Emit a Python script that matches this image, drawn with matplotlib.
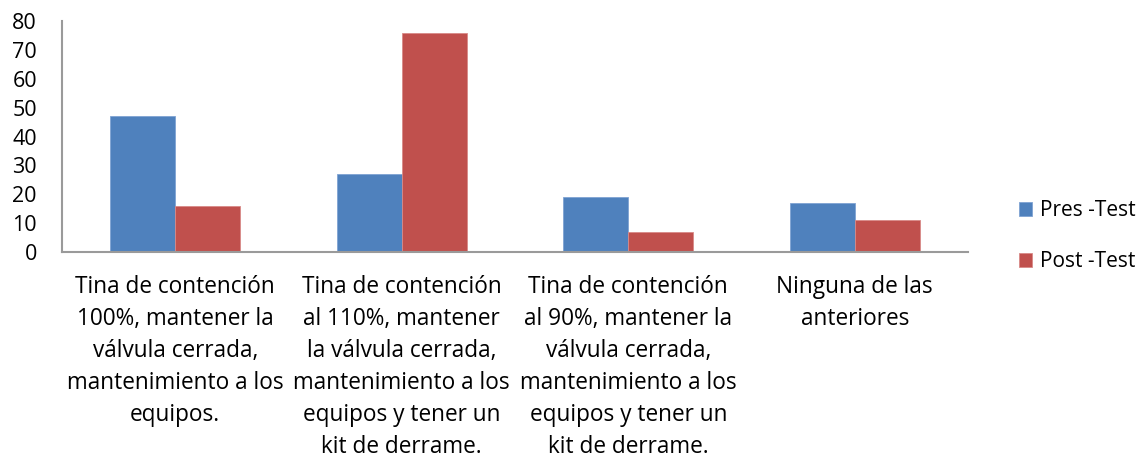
import numpy as np
import matplotlib.pyplot as plt

categories = [
    "Tina de contención\n100%, mantener la\nválvula cerrada,\nmantenimiento a los\nequipos.",
    "Tina de contención\nal 110%, mantener\nla válvula cerrada,\nmantenimiento a los\nequipos y tener un\nkit de derrame.",
    "Tina de contención\nal 90%, mantener la\nválvula cerrada,\nmantenimiento a los\nequipos y tener un\nkit de derrame.",
    "Ninguna de las\nanteriores",
]
pre_test = [47, 27, 19, 17]
post_test = [16, 76, 7, 11]
series_names = ["Pres -Test", "Post -Test"]

plt.rcParams["font.family"] = ["Open Sans", "DejaVu Sans"]

W, H = 1144, 461
fig = plt.figure(figsize=(W / 100, H / 100), dpi=100)
ax = fig.add_axes([62 / W, (H - 252) / H, (968 - 62) / W, (252 - 21) / H])

x = np.arange(len(categories))
bw = 0.287
ax.bar(x - bw / 2, pre_test, bw, color="#4F81BD", edgecolor="#7FA3D3", linewidth=0.6, label=series_names[0])
ax.bar(x + bw / 2, post_test, bw, color="#C0504D", edgecolor="#D88A88", linewidth=0.6, label=series_names[1])

ax.set_xlim(-0.5, len(categories) - 0.5)
ax.set_ylim(0, 80)
ax.set_yticks(range(0, 81, 10))
ax.tick_params(axis="y", length=0, labelsize=15.5, pad=18)
ax.set_xticks([])

for sp in ["top", "right"]:
    ax.spines[sp].set_visible(False)
for sp in ["left", "bottom"]:
    ax.spines[sp].set_color("#9A9A9A")
    ax.spines[sp].set_linewidth(1.5)

for i, lab in enumerate(categories):
    ax.text(i, -0.1, lab, transform=ax.get_xaxis_transform(), ha="center", va="top",
            fontsize=16.3, linespacing=1.44)

fig.legend(loc="center left", bbox_to_anchor=(1000 / W, (H - 236) / H), frameon=False,
           fontsize=15, handlelength=0.65, handleheight=0.65, handletextpad=0.35,
           labelspacing=1.45)

fig.savefig("out.png", dpi=100)
